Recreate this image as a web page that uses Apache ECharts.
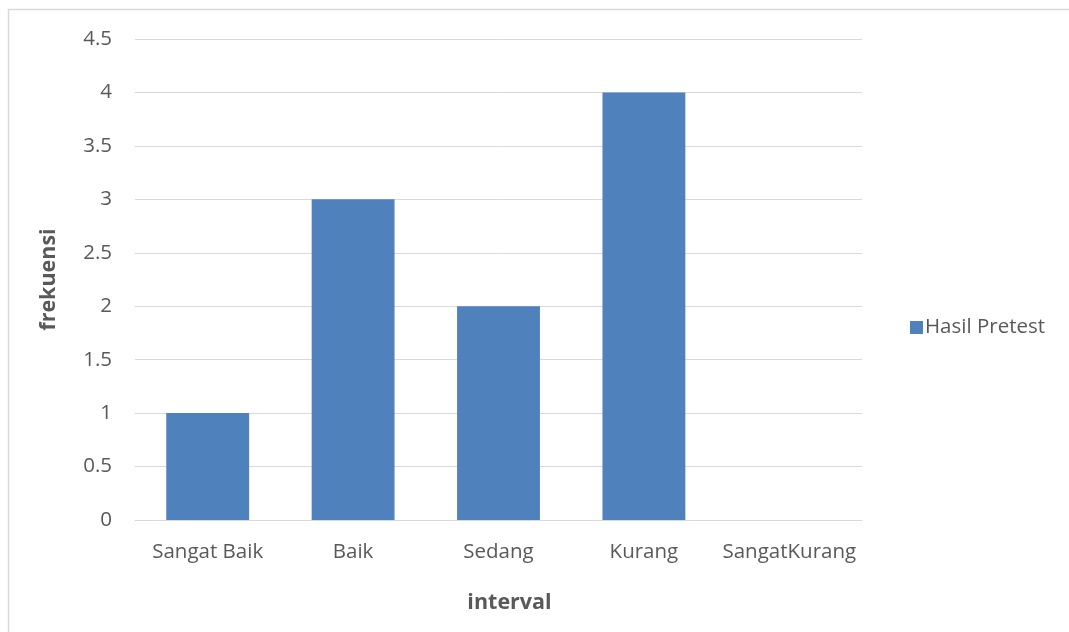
<!DOCTYPE html>
<html>
<head>
<meta charset="utf-8">
<script src="https://cdn.jsdelivr.net/npm/echarts@6/dist/echarts.min.js"></script>
<style>
  html, body { margin: 0; padding: 0; background: #fff; }
  #chart { width: 1069px; height: 632px; }
</style>
</head>
<body>
<div id="chart"></div>
<script>
// Frequency of pretest results per score interval
const categories = ['Sangat Baik', 'Baik', 'Sedang', 'Kurang', 'SangatKurang'];
const pretestValues = [1, 3, 2, 4, 0];
const yTicks = { min: 0, max: 4.5, interval: 0.5 };

const FONT = '"Open Sans", "Noto Sans", sans-serif';
const TEXT_COLOR = '#595959';

const chart = echarts.init(document.getElementById('chart'), null, { renderer: 'canvas' });

chart.setOption({
  animation: false,
  backgroundColor: '#ffffff',
  graphic: [{
    type: 'rect',
    shape: { x: 8.5, y: 9.5, width: 1100, height: 700 },
    style: { fill: 'none', stroke: '#d9d9d9', lineWidth: 1.5 },
    silent: true
  }],
  grid: { left: 135, right: 207, top: 39, bottom: 112, containLabel: false },
  legend: {
    data: ['Hasil Pretest'],
    left: 905,
    top: 312,
    icon: 'rect',
    itemWidth: 13,
    itemHeight: 13,
    itemGap: 6,
    textStyle: { color: TEXT_COLOR, fontFamily: FONT, fontSize: 20.5, padding: [0, 0, 0, -3] }
  },
  xAxis: {
    type: 'category',
    data: categories,
    name: 'interval',
    nameLocation: 'middle',
    nameGap: 72,
    nameTextStyle: { color: TEXT_COLOR, fontFamily: FONT, fontSize: 21.5, fontWeight: 'bold', padding: [0, 0, 0, 22] },
    axisLine: { lineStyle: { color: '#d9d9d9', width: 1 } },
    axisTick: { show: false },
    axisLabel: { color: TEXT_COLOR, fontFamily: FONT, fontSize: 20.5, margin: 22, interval: 0 }
  },
  yAxis: {
    type: 'value',
    min: yTicks.min,
    max: yTicks.max,
    interval: yTicks.interval,
    name: 'frekuensi',
    nameLocation: 'middle',
    nameGap: 75,
    nameRotate: 90,
    nameTextStyle: { color: TEXT_COLOR, fontFamily: FONT, fontSize: 21.5, fontWeight: 'bold' },
    axisLine: { show: false },
    axisTick: { show: false },
    splitLine: { lineStyle: { color: '#d9d9d9', width: 1 } },
    axisLabel: { color: TEXT_COLOR, fontFamily: FONT, fontSize: 20.5, margin: 23 }
  },
  series: [{
    name: 'Hasil Pretest',
    type: 'bar',
    data: pretestValues,
    barWidth: '57%',
    itemStyle: { color: '#4f81bd' }
  }]
});
</script>
</body>
</html>
